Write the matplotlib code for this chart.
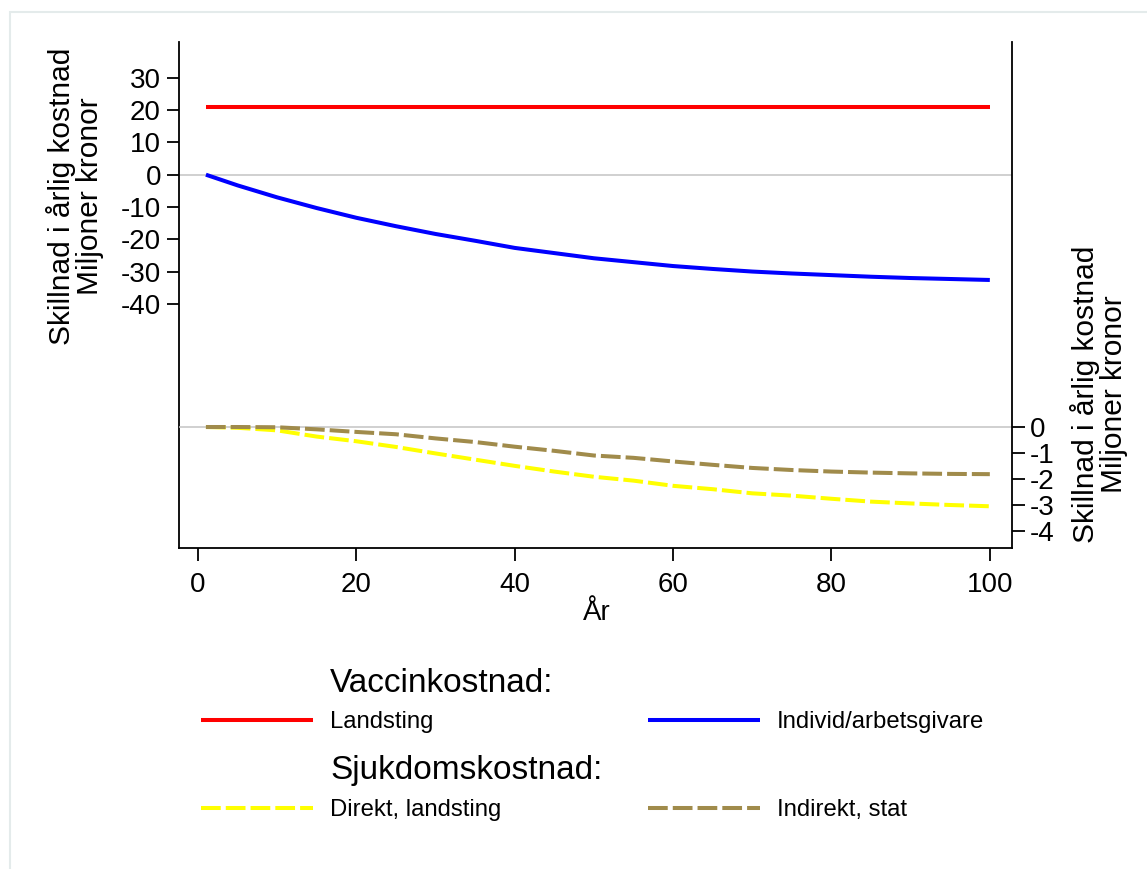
import matplotlib
matplotlib.use('Agg')
import matplotlib.pyplot as plt
from matplotlib.lines import Line2D
from matplotlib.patches import Rectangle

plt.rcParams['font.family'] = ['Liberation Sans', 'DejaVu Sans']
plt.rcParams['axes.unicode_minus'] = False

# ---------------- data ----------------
years = [1, 5, 10, 15, 20, 25, 30, 35, 40, 45, 50,
         55, 60, 65, 70, 75, 80, 85, 90, 95, 100]

# left axis (Miljoner kronor)
vaccin_landsting = [20.8, 20.8, 20.8, 20.8, 20.8, 20.8, 20.8, 20.8, 20.8, 20.8, 20.8,
                    20.8, 20.8, 20.8, 20.8, 20.8, 20.8, 20.8, 20.8, 20.8, 20.8]
vaccin_individ = [0.0, -3.3, -7.0, -10.3, -13.3, -15.9, -18.3, -20.4, -22.6, -24.2, -25.8,
                  -27.0, -28.2, -29.1, -29.9, -30.5, -31.0, -31.5, -31.9, -32.2, -32.5]

# right axis (Miljoner kronor)
sjukdom_direkt = [0.0, -0.03, -0.13, -0.37, -0.55, -0.77, -1.02, -1.26, -1.50, -1.72, -1.92,
                  -2.07, -2.27, -2.40, -2.56, -2.65, -2.77, -2.88, -2.95, -3.01, -3.06]
sjukdom_indirekt = [0.0, 0.0, -0.01, -0.09, -0.19, -0.28, -0.44, -0.58, -0.76, -0.92, -1.10,
                    -1.19, -1.33, -1.46, -1.58, -1.66, -1.72, -1.76, -1.79, -1.81, -1.82]

left_ticks = [30, 20, 10, 0, -10, -20, -30, -40]
right_ticks = [0, -1, -2, -3, -4]
x_ticks = [0, 20, 40, 60, 80, 100]

ylabel = "Skillnad i årlig kostnad\nMiljoner kronor"
xlabel = "År"
legend_groups = ["Vaccinkostnad:", "Sjukdomskostnad:"]
legend_labels = ["Landsting", "Individ/arbetsgivare", "Direkt, landsting", "Indirekt, stat"]

c_red = '#ff0000'
c_blue = '#0000ff'
c_yellow = '#ffff00'
c_brown = '#a08b4b'

# ---------------- figure ----------------
W, H = 1147, 869
fig = plt.figure(figsize=(W / 100, H / 100), dpi=100)
fig.patch.set_facecolor('white')


def fx(px):
    return px / W


def fy(py):
    return 1 - py / H


# outer light frame
fig.add_artist(Rectangle((fx(10), fy(H + 20)), fx(W + 20) - fx(10), fy(12) - fy(H + 20),
                         transform=fig.transFigure, fill=False, edgecolor='#e4ebeb', lw=1.5))

ax = fig.add_axes([fx(179), fy(548), fx(1012) - fx(179), fy(42) - fy(548)])
ax2 = ax.twinx()
ax.patch.set_alpha(0)

lw = 2.9
dash = (4.9, 1.25)

ax.axhline(0, color='#c4c4c4', lw=1.1, zorder=1)
ax2.axhline(0, color='#c4c4c4', lw=1.1, zorder=1)

ax.plot(years, vaccin_landsting, color=c_red, lw=lw, solid_capstyle='butt', zorder=3)
ax.plot(years, vaccin_individ, color=c_blue, lw=lw, solid_capstyle='butt', zorder=3)
ax2.plot(years, sjukdom_direkt, color=c_yellow, lw=lw, dashes=dash, dash_capstyle='butt', zorder=3)
ax2.plot(years, sjukdom_indirekt, color=c_brown, lw=lw, dashes=dash, dash_capstyle='butt', zorder=4)

ax.set_xlim(-2.4, 102.8)
ax.set_ylim(-115.25, 40.97)
ax2.set_ylim(-4.67, 14.86)

ax.set_xticks(x_ticks)
ax.set_xticklabels([str(v) for v in x_ticks])
ax.set_yticks(left_ticks)
ax.set_yticklabels([str(v) for v in left_ticks])
ax2.set_yticks(right_ticks)
ax2.set_yticklabels([str(v) for v in right_ticks])

for a in (ax, ax2):
    for s in a.spines.values():
        s.set_linewidth(1.3)
        s.set_color('black')
    a.spines['top'].set_visible(False)
ax.spines['right'].set_visible(False)
ax2.spines['left'].set_visible(False)
ax2.spines['bottom'].set_visible(False)

ax.tick_params(axis='both', direction='out', length=9, width=1.3, labelsize=20, pad=4)
ax.tick_params(axis='x', pad=8)
ax2.tick_params(axis='y', direction='out', length=9, width=1.3, labelsize=20, pad=4)

# axis titles
fig.text(fx(75), fy(196), ylabel, rotation=90, ha='center', va='center',
         multialignment='center', fontsize=21.5, linespacing=1.0)
fig.text(fx(1099), fy(394), ylabel, rotation=90, ha='center', va='center',
         multialignment='center', fontsize=21.5, linespacing=1.0)
fig.text(fx(597), fy(613), xlabel, ha='center', va='center', fontsize=20)

# legend (manual, as in the reference)
fig.text(fx(330), fy(683), legend_groups[0], ha='left', va='center', fontsize=24)
fig.text(fx(330), fy(770), legend_groups[1], ha='left', va='center', fontsize=24)

entries = [
    (201, 720, c_red, None, legend_labels[0]),
    (648, 720, c_blue, None, legend_labels[1]),
    (201, 808, c_yellow, dash, legend_labels[2]),
    (648, 808, c_brown, dash, legend_labels[3]),
]
for x0, yy, col, ds, lab in entries:
    ln = Line2D([fx(x0), fx(x0 + 112)], [fy(yy), fy(yy)], transform=fig.transFigure,
                color=col, lw=lw, solid_capstyle='butt', dash_capstyle='butt')
    if ds is not None:
        ln.set_dashes(ds)
    fig.add_artist(ln)
    fig.text(fx(x0 + 129), fy(yy + 2), lab, ha='left', va='center', fontsize=17.2)

fig.savefig('out.png', dpi=100)
